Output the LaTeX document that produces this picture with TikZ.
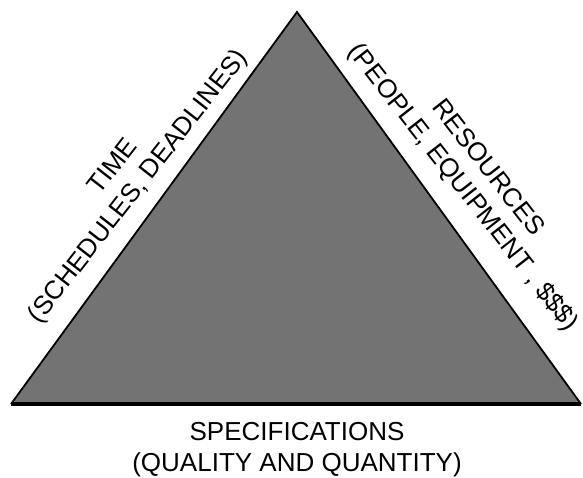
\documentclass[tikz,border=0pt]{standalone}
\usepackage{fontspec}
\setmainfont{Liberation Sans}
\begin{document}
\begin{tikzpicture}[x=1pt,y=-1pt,
  lbl/.style={font=\fontsize{26}{32}\selectfont, text=black, inner sep=0pt, anchor=base},
  edge/.style={draw=black, line width=1.8pt, line join=miter}]
\useasboundingbox (0,0) rectangle (583,477);
\coordinate (A) at (297,12);
\coordinate (L) at (11,404);
\coordinate (R) at (581,404);
\fill[black!55] (A) -- (R) -- (L) -- cycle;
\draw[edge] (L) -- (A) -- (R);
\draw[black, line width=3.2pt] (L) -- (R);
% left labels
\node[lbl, rotate=52] (time) at (119,171) {TIME};
\node[lbl, rotate=52] (sched) at (144,191) {(SCHEDULES, DEADLINES)};
% right labels
\node[lbl, rotate=-52] (res) at (482,172.5) {RESOURCES};
\node[lbl, rotate=-52] (people) at (457,192) {(PEOPLE, EQUIPMENT , \$\$\$)};
% bottom labels
\node[lbl] (spec) at (297,440) {SPECIFICATIONS};
\node[lbl] (qual) at (297,471) {(QUALITY AND QUANTITY)};
\end{tikzpicture}
\end{document}
